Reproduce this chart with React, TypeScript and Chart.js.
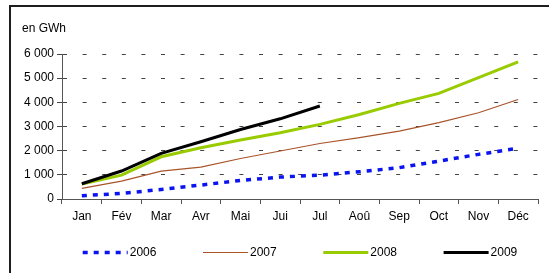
import React, { useEffect, useRef } from "react";
import { Chart, registerables } from "chart.js";

Chart.register(...registerables);

const months = ["Jan", "Fév", "Mar", "Avr", "Mai", "Jui", "Jul", "Aoû", "Sep", "Oct", "Nov", "Déc"];
const seriesLabels = ["2006", "2007", "2008", "2009"];
const values2006 = [140, 235, 400, 580, 770, 910, 990, 1130, 1300, 1570, 1850, 2100];
const values2007 = [440, 745, 1160, 1320, 1680, 1990, 2300, 2540, 2810, 3160, 3570, 4120];
const values2008 = [620, 990, 1750, 2120, 2440, 2740, 3090, 3500, 3960, 4370, 5020, 5670];
const values2009 = [633, 1160, 1890, 2370, 2880, 3320, 3850, null, null, null, null, null];
const yTicks = [0, 1000, 2000, 3000, 4000, 5000, 6000];
const unitLabel = "en GWh";

const FONT = "'Liberation Sans', Arial, sans-serif";

const fmt = (v: number) => String(v).replace(/\B(?=(\d{3})+(?!\d))/g, " ");

const legendPlugin = {
  id: "customLegend",
  afterDraw(chart: any) {
    const ctx = chart.ctx;
    const area = chart.chartArea;
    const ds = chart.data.datasets;
    const lineLen = 45;
    const gap = 2;
    const step = 120.3;
    ctx.save();
    ctx.font = `12px ${FONT}`;
    const textW = ctx.measureText(String(ds[ds.length - 1].label)).width;
    const total = step * (ds.length - 1) + lineLen + gap + textW;
    const cx = (area.left + area.right) / 2;
    const y = 252.5;
    ds.forEach((d: any, i: number) => {
      const x0 = cx - total / 2 + i * step;
      ctx.beginPath();
      ctx.strokeStyle = d.borderColor;
      ctx.lineWidth = d.borderWidth;
      ctx.lineCap = "butt";
      ctx.setLineDash(d.borderDash || []);
      ctx.moveTo(x0, y);
      ctx.lineTo(x0 + lineLen, y);
      ctx.stroke();
      ctx.setLineDash([]);
      ctx.fillStyle = "#000";
      ctx.textBaseline = "middle";
      ctx.textAlign = "left";
      ctx.fillText(d.label, x0 + lineLen + gap, y);
    });
    ctx.restore();
  },
};

export default function App() {
  const ref = useRef<HTMLCanvasElement | null>(null);

  useEffect(() => {
    document.body.style.margin = "0";
    if (!ref.current) return;
    const chart = new Chart(ref.current, {
      type: "line",
      data: {
        labels: months,
        datasets: [
          {
            label: seriesLabels[0],
            data: values2006,
            borderColor: "#0a14f0",
            borderWidth: 3.5,
            borderDash: [5, 6],
            pointRadius: 0,
            tension: 0,
            order: 3,
          },
          {
            label: seriesLabels[1],
            data: values2007,
            borderColor: "#a9542a",
            borderWidth: 1.2,
            pointRadius: 0,
            tension: 0,
            order: 2,
          },
          {
            label: seriesLabels[2],
            data: values2008,
            borderColor: "#99cc00",
            borderWidth: 3,
            pointRadius: 0,
            tension: 0,
            order: 1,
          },
          {
            label: seriesLabels[3],
            data: values2009,
            borderColor: "#000000",
            borderWidth: 3,
            pointRadius: 0,
            tension: 0,
            order: 0,
          },
        ],
      },
      plugins: [legendPlugin],
      options: {
        animation: false,
        responsive: false,
        devicePixelRatio: 1,
        layout: { padding: { left: 22, top: 21, right: 11, bottom: 44.5 } },
        plugins: {
          legend: { display: false },
          tooltip: { enabled: false },
          title: {
            display: true,
            text: unitLabel,
            align: "start",
            color: "#000",
            font: { family: FONT, size: 12, weight: "normal" },
            padding: { top: 0, bottom: 18.6 },
          },
        },
        scales: {
          x: {
            offset: true,
            grid: {
              display: true,
              offset: true,
              drawOnChartArea: false,
              drawTicks: true,
              tickLength: 5,
              color: "#555",
              tickColor: "#555",
            },
            border: { display: true, color: "#555", width: 1 },
            ticks: {
              color: "#000",
              padding: 5,
              maxRotation: 0,
              autoSkip: false,
              font: { family: FONT, size: 12 },
            },
          },
          y: {
            min: 0,
            max: 6000,
            afterFit: (s: any) => {
              s.width = 40;
            },
            afterBuildTicks: (s: any) => {
              s.ticks = yTicks.map((v) => ({ value: v }));
            },
            grid: {
              display: true,
              drawOnChartArea: true,
              drawTicks: true,
              tickLength: 5,
              color: "#444",
              tickColor: "#444",
              lineWidth: 1,
            },
            border: { display: true, color: "#555", width: 1, dash: [4, 15.6] },
            ticks: {
              color: "#000",
              padding: 3,
              font: { family: FONT, size: 12 },
              callback: (v: any) => fmt(Number(v)),
            },
          },
        },
      },
    });
    return () => chart.destroy();
  }, []);

  return (
    <div style={{ position: "relative", width: 549, height: 273, overflow: "hidden", background: "#fff" }}>
      <canvas ref={ref} width={549} height={273} style={{ position: "absolute", left: 0, top: 0, width: 549, height: 273 }} />
      <div
        style={{
          position: "absolute",
          left: 9,
          top: 5,
          width: 600,
          height: 400,
          borderTop: "2px solid #1e1e1e",
          borderLeft: "2px solid #1e1e1e",
          pointerEvents: "none",
        }}
      />
    </div>
  );
}
